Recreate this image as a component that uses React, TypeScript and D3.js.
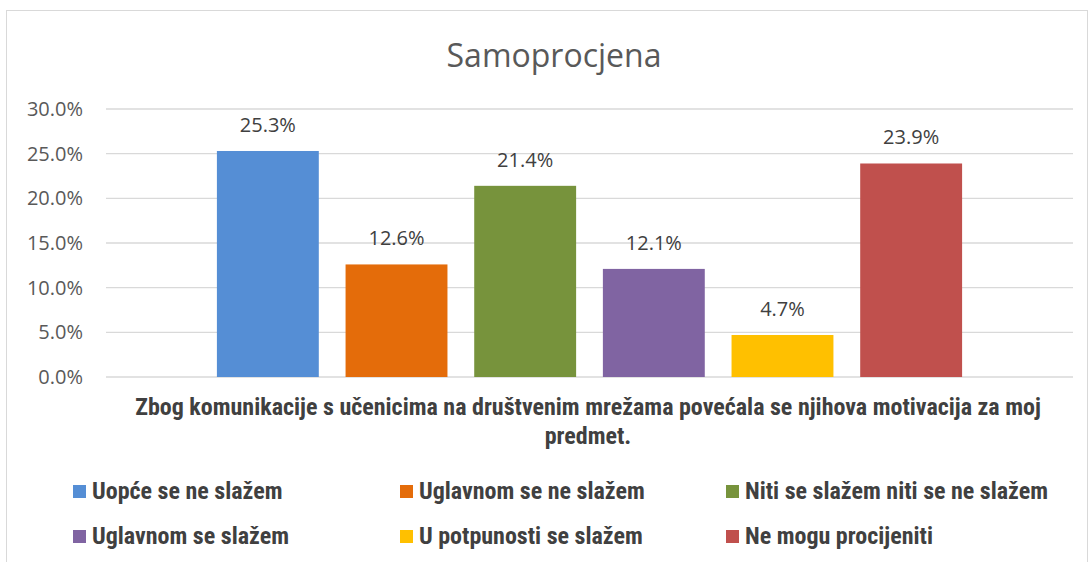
import React from "react";
import * as d3 from "d3";

const seriesNames = [
  "Uopće se ne slažem",
  "Uglavnom se ne slažem",
  "Niti se slažem niti se ne slažem",
  "Uglavnom se slažem",
  "U potpunosti se slažem",
  "Ne mogu procijeniti",
];
const seriesValues = [0.253, 0.126, 0.214, 0.121, 0.047, 0.239];
const seriesColors = ["#558ED5", "#E46C0A", "#77933C", "#8064A2", "#FFC000", "#C0504D"];
const yTicks = [0, 0.05, 0.1, 0.15, 0.2, 0.25, 0.3];
const chartTitle = "Samoprocjena";
const axisTitleLines = [
  "Zbog komunikacije s učenicima na društvenim mrežama povećala se njihova motivacija za moj",
  "predmet.",
];

const W = 1089;
const H = 562;
const plot = { left: 106, right: 1073, top: 109, bottom: 377 };
const labelFont = "'Open Sans', 'Noto Sans', sans-serif";
const boldFont = "'Liberation Sans Narrow', 'Arial Narrow', 'Roboto Condensed', sans-serif";

export default function App() {
  const y = d3.scaleLinear().domain([0, 0.3]).range([plot.bottom, plot.top]);
  const x = d3
    .scaleBand<string>()
    .domain(seriesNames)
    .range([plot.left, plot.right])
    .paddingInner(0.208)
    .paddingOuter(0.862);
  const fmt = d3.format(".1%");

  // legend: 3 columns x 2 rows
  const legendCols = [73, 400, 726];
  const legendRows = [491.5, 536.5];

  return (
    <svg
      width={W}
      height={H}
      style={{ position: "absolute", left: 0, top: 0, background: "#fff" }}
    >
      <rect x={6.5} y={10.5} width={1081} height={600} fill="#fff" stroke="#d9d9d9" strokeWidth={1} />

      <text
        x={554}
        y={67}
        textAnchor="middle"
        fontFamily={labelFont}
        fontSize={32}
        fill="#595959"
      >
        {chartTitle}
      </text>

      {yTicks.map((t) => (
        <g key={t}>
          <line
            x1={plot.left}
            x2={plot.right}
            y1={y(t)}
            y2={y(t)}
            stroke="#d9d9d9"
            strokeWidth={1.3}
          />
          <text
            x={83}
            y={y(t)}
            dy="0.35em"
            textAnchor="end"
            fontFamily={labelFont}
            fontSize={20}
            fill="#595959"
          >
            {fmt(t)}
          </text>
        </g>
      ))}

      {seriesNames.map((name, i) => (
        <g key={name}>
          <rect
            x={x(name)}
            y={y(seriesValues[i])}
            width={x.bandwidth()}
            height={y(0) - y(seriesValues[i])}
            fill={seriesColors[i]}
          />
          <text
            x={(x(name) as number) + x.bandwidth() / 2}
            y={y(seriesValues[i]) - 19}
            textAnchor="middle"
            fontFamily={labelFont}
            fontSize={20}
            fill="#404040"
          >
            {fmt(seriesValues[i])}
          </text>
        </g>
      ))}

      {axisTitleLines.map((line, i) => (
        <text
          key={i}
          x={588}
          y={415 + i * 29}
          textAnchor="middle"
          fontFamily={boldFont}
          fontWeight="bold"
          fontSize={24}
          fill="#404040"
        >
          {line}
        </text>
      ))}

      {seriesNames.map((name, i) => {
        const cx = legendCols[i % 3];
        const cy = legendRows[Math.floor(i / 3)];
        return (
          <g key={"lg" + name}>
            <rect x={cx} y={cy - 6.5} width={13} height={13} fill={seriesColors[i]} />
            <text
              x={cx + 19}
              y={cy + 7}
              fontFamily={boldFont}
              fontWeight="bold"
              fontSize={24}
              fill="#404040"
            >
              {name}
            </text>
          </g>
        );
      })}
    </svg>
  );
}
